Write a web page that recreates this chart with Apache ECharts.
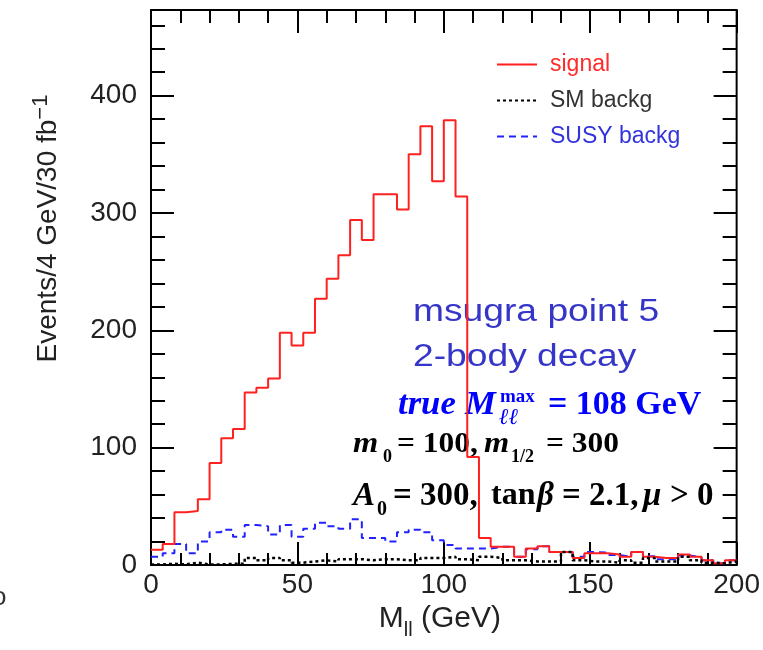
<!DOCTYPE html>
<html>
<head>
<meta charset="utf-8">
<script src="https://cdn.jsdelivr.net/npm/echarts@6/dist/echarts.min.js"></script>
<style>
html,body{margin:0;padding:0;background:#fff;}
#chart{width:763px;height:650px;}
</style>
</head>
<body>
<div id="chart"></div>
<script>
// ---- data (bin edges in GeV, 4 GeV bins) ----
const binEdges = [0,4,8,12,16,20,24,28,32,36,40,44,48,52,56,60,64,68,72,76,80,84,88,92,96,100,
  104,108,112,116,120,124,128,132,136,140,144,148,152,156,160,164,168,172,176,180,184,188,192,196,200];
const signal = [13,18,45,46,56,87,108,116,147,151,159,198,187,198,227,244,264,294,277,316,316,303,350,374,327,379,
  314,92,23,15.5,15.5,7,14,16,11,11,6,10,10,9,7,11,7,6,6,9,7,4,1.5,4];
const smBackg = [0.5,1,0.5,2,0.5,0.5,1,1,6,4,6,4,2,3,4,3,5,5,4,5,5,4,4,6,6,7,
  5,4,7,6,4,4,3,3,3,11,4,3,3,2,4,2,6,3,3,7,4,2,1.5,3];
const susyBackg = [7,10,18,10,20,28,30,24,34,33,26,34,24,31,36,33,31,39,23,23,20,28,30,28,21,17,
  14,14,14,15.5,15.5,7,13.5,16,11,11,7,11,10.5,8.5,7,11,7.5,5,5,8,6.5,4,1.5,4];
const xTickLabels = [0,50,100,150,200];
const yTickLabels = [0,100,200,300,400];
const seriesNames = ['signal','SM backg','SUSY backg'];

function histPoints(vals){
  const pts = vals.map((v,i)=>[binEdges[i], v]);
  pts.push([binEdges[binEdges.length-1], vals[vals.length-1]]);
  return pts;
}

const SANS = '"Liberation Sans", Arial, Helvetica, sans-serif';
const SERIF = '"Liberation Serif", "Times New Roman", serif';
const YMAX = 473;

function xAx(pos, interval, tickLen, labels){
  return {
    type:'value', min:0, max:200, interval:interval, position:pos, offset:0,
    axisLine:{show:false, onZero:false}, splitLine:{show:false},
    axisTick:{show:true, inside:true, length:tickLen, lineStyle:{color:'#000', width:2}},
    axisLabel: labels ? {show:true, fontSize:28, fontFamily:SANS, color:'#222', margin:6,
      formatter:(v)=> xTickLabels.indexOf(v)>=0 ? String(v) : ''} : {show:false}
  };
}
function yAx(pos, interval, tickLen, labels){
  return {
    type:'value', min:0, max:YMAX, interval:interval, position:pos, offset:0,
    axisLine:{show:false, onZero:false}, splitLine:{show:false},
    axisTick:{show:true, inside:true, length:tickLen, lineStyle:{color:'#000', width:2}},
    axisLabel: labels ? {show:true, fontSize:28, fontFamily:SANS, color:'#222', margin:14,
      formatter:(v)=> yTickLabels.indexOf(v)>=0 ? String(v) : ''} : {show:false}
  };
}

const xMain = xAx('bottom', 50, 23, true);
xMain.name = '{a|M}{b|ll}{a| (GeV)}';
xMain.nameLocation = 'middle';
xMain.nameGap = 31;
xMain.nameTextStyle = {padding:[0,8,0,0], rich:{
  a:{fontSize:30, fontFamily:SANS, color:'#222', lineHeight:44},
  b:{fontSize:20, fontFamily:SANS, color:'#222', verticalAlign:'bottom'}
}};
const yMain = yAx('left', 100, 23, true);
yMain.name = '{a|Events/4 GeV/30 fb}{s|\u22121}';
yMain.nameLocation = 'middle';
yMain.nameRotate = 90;
yMain.nameGap = 85;
yMain.nameTextStyle = {padding:[0,0,0,118], rich:{
  a:{fontSize:28, fontFamily:SANS, color:'#222', lineHeight:36},
  s:{fontSize:22, fontFamily:SANS, color:'#222', verticalAlign:'top'}
}};

const option = {
  animation:false,
  backgroundColor:'#fff',
  grid:{left:151, right:26, top:10, bottom:85, show:true, borderColor:'#000', borderWidth:2, backgroundColor:'transparent'},
  legend:{
    orient:'vertical', left:491, top:48, itemWidth:40, itemHeight:14, itemGap:13,
    itemStyle:{opacity:0},
    textStyle:{fontSize:23, fontFamily:SANS, padding:[0,0,0,8]},
    data:[
      {name:seriesNames[0], textStyle:{color:'#ff2a2a'}},
      {name:seriesNames[1], textStyle:{color:'#333333'}},
      {name:seriesNames[2], textStyle:{color:'#3333dd'}}
    ]
  },
  xAxis:[ xMain, xAx('bottom',10,12,false), xAx('top',50,23,false), xAx('top',10,13,false) ],
  yAxis:[ yMain, yAx('left',20,14,false), yAx('right',100,23,false), yAx('right',20,14,false) ],
  series:[
    {name:seriesNames[2], type:'line', step:'end', data:histPoints(susyBackg), symbol:'none',
      lineStyle:{color:'#2222ff', width:2, type:[7,5]}, itemStyle:{color:'#2222ff'}, z:2},
    {name:seriesNames[0], type:'line', step:'end', data:histPoints(signal), symbol:'none',
      lineStyle:{color:'#ff2020', width:2}, itemStyle:{color:'#ff2020'}, z:3},
    {name:seriesNames[1], type:'line', step:'end', data:histPoints(smBackg), symbol:'none',
      lineStyle:{color:'#000', width:2.5, type:[3,3]}, itemStyle:{color:'#000'}, z:4}
  ],
  graphic:[
    {type:'text', x:413, y:312, scaleX:1.2, style:{text:'msugra point 5', font:'31px '+SANS, fill:'#3535c8', textAlign:'left', verticalAlign:'middle'}},
    {type:'text', x:413, y:357, scaleX:1.2, style:{text:'2-body decay', font:'31px '+SANS, fill:'#3535c8', textAlign:'left', verticalAlign:'middle'}},
    // true M_ll^max = 108 GeV
    {type:'text', x:398, y:405, scaleX:1.05, style:{text:'true', font:'italic bold 33px '+SERIF, fill:'#0000ff', textAlign:'left', verticalAlign:'middle'}},
    {type:'text', x:465, y:405, scaleX:1.05, style:{text:'M', font:'italic bold 33px '+SERIF, fill:'#0000ff', textAlign:'left', verticalAlign:'middle'}},
    {type:'text', x:500, y:397, style:{text:'max', font:'bold 19px '+SERIF, fill:'#0000ff', textAlign:'left', verticalAlign:'middle'}},
    {type:'text', x:499, y:418, style:{text:'\u2113\u2113', font:'italic bold 23px '+SERIF, fill:'#0000ff', textAlign:'left', verticalAlign:'middle'}},
    {type:'text', x:548, y:405, scaleX:1.03, style:{text:'= 108 GeV', font:'bold 33px '+SERIF, fill:'#0000ff', textAlign:'left', verticalAlign:'middle'}},
    // m0 = 100, m1/2 = 300
    {type:'text', x:353, y:444, scaleX:1.08, style:{text:'m', font:'italic bold 30px '+SERIF, fill:'#000', textAlign:'left', verticalAlign:'middle'}},
    {type:'text', x:383, y:457, style:{text:'0', font:'bold 18px '+SERIF, fill:'#000', textAlign:'left', verticalAlign:'middle'}},
    {type:'text', x:397, y:444, scaleX:1.05, style:{text:'= 100,', font:'bold 30px '+SERIF, fill:'#000', textAlign:'left', verticalAlign:'middle'}},
    {type:'text', x:484, y:444, scaleX:1.08, style:{text:'m', font:'italic bold 30px '+SERIF, fill:'#000', textAlign:'left', verticalAlign:'middle'}},
    {type:'text', x:511, y:457, style:{text:'1/2', font:'bold 18px '+SERIF, fill:'#000', textAlign:'left', verticalAlign:'middle'}},
    {type:'text', x:546, y:444, scaleX:1.05, style:{text:'= 300', font:'bold 30px '+SERIF, fill:'#000', textAlign:'left', verticalAlign:'middle'}},
    // A0 = 300, tan beta = 2.1, mu > 0
    {type:'text', x:353, y:496, style:{text:'A', font:'italic bold 33px '+SERIF, fill:'#000', textAlign:'left', verticalAlign:'middle'}},
    {type:'text', x:377, y:510, style:{text:'0', font:'bold 20px '+SERIF, fill:'#000', textAlign:'left', verticalAlign:'middle'}},
    {type:'text', x:393, y:496, style:{text:'= 300,', font:'bold 33px '+SERIF, fill:'#000', textAlign:'left', verticalAlign:'middle'}},
    {type:'text', x:491, y:496, style:{text:'tan', font:'bold 32px '+SERIF, fill:'#000', textAlign:'left', verticalAlign:'middle'}},
    {type:'text', x:537, y:496, style:{text:'\u03b2', font:'italic bold 33px '+SERIF, fill:'#000', textAlign:'left', verticalAlign:'middle'}},
    {type:'text', x:562, y:496, style:{text:'= 2.1,', font:'bold 33px '+SERIF, fill:'#000', textAlign:'left', verticalAlign:'middle'}},
    {type:'text', x:643, y:496, style:{text:'\u03bc', font:'italic bold 33px '+SERIF, fill:'#000', textAlign:'left', verticalAlign:'middle'}},
    {type:'text', x:670, y:496, style:{text:'> 0', font:'bold 33px '+SERIF, fill:'#000', textAlign:'left', verticalAlign:'middle'}},
    // stray glyph at the left edge
    {type:'text', x:-8, y:598, style:{text:'o', font:'26px '+SANS, fill:'#333', textAlign:'left', verticalAlign:'middle'}}
  ]
};

const chart = echarts.init(document.getElementById('chart'), null, {renderer:'canvas'});
chart.setOption(option);
</script>
</body>
</html>
